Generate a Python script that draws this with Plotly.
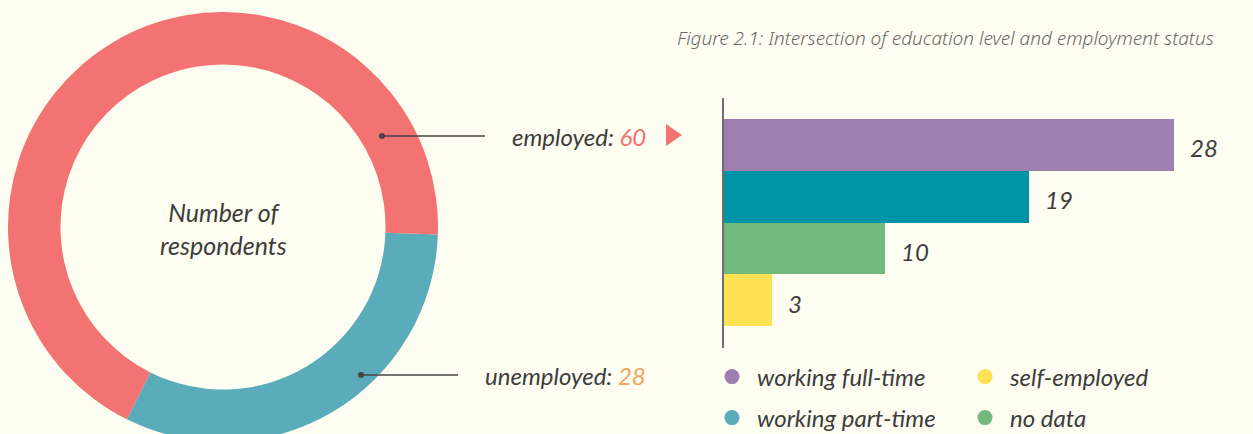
import plotly.graph_objects as go

W, H = 1253, 434
OFF = 8  # page body margin offset of the figure on screen

# ---- data ----
donut_labels = ["unemployed", "employed"]
donut_values = [28, 60]
donut_colors = ["#5BACBA", "#F37272"]

bar_categories = ["working full-time", "working part-time", "no data", "self-employed"]
bar_values = [28, 19, 10, 3]
bar_colors = ["#9E7FB0", "#0095A6", "#72BA7C", "#FFE253"]

legend_row1 = ["working full-time", "self-employed"]
legend_row2 = ["working part-time", "no data"]
legend_colors = {"working full-time": "#9E7FB0", "self-employed": "#FFE253",
                 "working part-time": "#5BACBA", "no data": "#72BA7C"}

title_text = "Figure 2.1: Intersection of education level and employment status"
center_text = "Number of<br>respondents"
number_colors = {"employed": "#F37272", "unemployed": "#F5A35E"}

FONT = "Lato"
DARK = "#3d3d3d"
BG = "#FEFDF1"


def px(x):
    return (x - OFF) / W


def py(y):
    return 1 - (y - OFF) / H


fig = go.Figure()

# donut
fig.add_trace(go.Pie(
    labels=donut_labels, values=donut_values, hole=0.756,
    sort=False, direction="clockwise", rotation=92,
    marker=dict(colors=donut_colors, line=dict(width=0)),
    textinfo="none", hoverinfo="label+value", showlegend=False,
    domain=dict(x=[px(8), px(438)], y=[0, py(12)]),
))

# bars
fig.add_trace(go.Bar(
    y=bar_categories, x=bar_values, orientation="h",
    marker=dict(color=bar_colors, line=dict(width=0)),
    width=1, showlegend=False, hoverinfo="y+x",
))

# legend entries (circles)
for name in legend_row1:
    fig.add_trace(go.Scatter(x=[None], y=[None], mode="markers", name=name,
                             marker=dict(size=15, color=legend_colors[name]),
                             legend="legend"))
for name in legend_row2:
    fig.add_trace(go.Scatter(x=[None], y=[None], mode="markers", name=name,
                             marker=dict(size=15, color=legend_colors[name]),
                             legend="legend2"))

annotations = []
# value labels
for c, v in zip(bar_categories, bar_values):
    annotations.append(dict(x=v, y=c, xref="x", yref="y", text=str(v), showarrow=False,
                            xanchor="left", yanchor="middle", xshift=14, yshift=-3,
                            font=dict(family=FONT, size=24, color=DARK, style="italic")))

# title
annotations.append(dict(x=px(1216), y=py(38), xref="paper", yref="paper", text=title_text,
                        showarrow=False, xanchor="right", yanchor="middle",
                        font=dict(family="Noto Sans", size=19, color="#6a6a6a",
                                  style="italic", weight=300)))

# center text
annotations.append(dict(x=px(223), y=py(228), xref="paper", yref="paper", text=center_text,
                        showarrow=False, xanchor="center", yanchor="middle",
                        font=dict(family=FONT, size=25, color=DARK, style="italic")))

# donut labels
for lab, v, ypos in [("employed", 60, 136), ("unemployed", 28, 375)]:
    annotations.append(dict(
        x=px(648), y=py(ypos), xref="paper", yref="paper", showarrow=False,
        xanchor="right", yanchor="middle",
        text=f"{lab}: <span style='color:{number_colors[lab]}'>{v}</span>",
        font=dict(family=FONT, size=24, color=DARK, style="italic")))

shapes = []
for (x0, x1, yy) in [(382, 485, 136), (361, 458, 375)]:
    shapes.append(dict(type="line", xref="paper", yref="paper",
                       x0=px(x0), x1=px(x1), y0=py(yy), y1=py(yy),
                       line=dict(color="#444444", width=1.5)))
    shapes.append(dict(type="circle", xref="paper", yref="paper",
                       x0=px(x0 - 3), x1=px(x0 + 3), y0=py(yy - 3), y1=py(yy + 3),
                       fillcolor="#444444", line=dict(width=0)))
# pointer triangle
shapes.append(dict(type="path", xref="paper", yref="paper",
                   path=f"M {px(666)} {py(124)} L {px(682)} {py(135)} L {px(666)} {py(146)} Z",
                   fillcolor="#F37272", line=dict(width=0)))

legend_common = dict(orientation="h", xanchor="left", yanchor="middle",
                     entrywidth=198, entrywidthmode="pixels", bgcolor="rgba(0,0,0,0)",
                     itemsizing="trace", itemwidth=40,
                     font=dict(family=FONT, size=24, color=DARK, style="italic"))

x_end = OFF + W
fig.update_layout(
    width=W, height=H, margin=dict(l=0, r=0, t=0, b=0),
    paper_bgcolor=BG, plot_bgcolor=BG,
    bargap=0, barmode="overlay",
    xaxis=dict(domain=[px(724), 1], range=[0, (x_end - 724) / (450 / 28)],
               visible=False, fixedrange=True),
    yaxis=dict(domain=[py(348), py(98)], range=[3.925, -0.906], type="category",
               categoryorder="array", categoryarray=bar_categories,
               showticklabels=False, ticks="", showgrid=False, zeroline=False,
               showline=True, linecolor="#6f6f6f", linewidth=1.5, fixedrange=True),
    legend=dict(x=px(707), y=py(377), **legend_common),
    legend2=dict(x=px(707), y=py(418), **legend_common),
    annotations=annotations, shapes=shapes,
    font=dict(family=FONT, color=DARK),
)

fig.write_html("out.html", post_script=f"document.body.style.background='{BG}';")
